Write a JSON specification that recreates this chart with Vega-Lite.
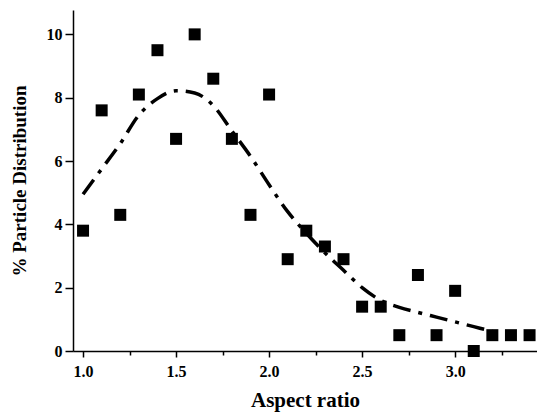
{
  "$schema": "https://vega.github.io/schema/vega-lite/v6.json",
  "width": 464,
  "height": 341,
  "autosize": {"type": "none"},
  "padding": {"left": 73, "top": 10, "right": 0, "bottom": 63},
  "background": "white",
  "config": {
    "view": {"stroke": null},
    "font": "Liberation Serif",
    "axis": {
      "domainColor": "black",
      "domainWidth": 1.5,
      "tickColor": "black",
      "tickWidth": 1.5,
      "labelFont": "Liberation Serif",
      "labelFontWeight": "bold",
      "labelFontSize": 16,
      "labelColor": "black",
      "titleFont": "Liberation Serif",
      "titleFontWeight": "bold",
      "titleFontSize": 19,
      "titleColor": "black",
      "grid": false
    }
  },
  "datasets": {
    "points": [
      {"ratio": 1.0, "pct": 3.8},
      {"ratio": 1.1, "pct": 7.6},
      {"ratio": 1.2, "pct": 4.3},
      {"ratio": 1.3, "pct": 8.1},
      {"ratio": 1.4, "pct": 9.5},
      {"ratio": 1.5, "pct": 6.7},
      {"ratio": 1.6, "pct": 10.0},
      {"ratio": 1.7, "pct": 8.6},
      {"ratio": 1.8, "pct": 6.7},
      {"ratio": 1.9, "pct": 4.3},
      {"ratio": 2.0, "pct": 8.1},
      {"ratio": 2.1, "pct": 2.9},
      {"ratio": 2.2, "pct": 3.8},
      {"ratio": 2.3, "pct": 3.3},
      {"ratio": 2.4, "pct": 2.9},
      {"ratio": 2.5, "pct": 1.4},
      {"ratio": 2.6, "pct": 1.4},
      {"ratio": 2.7, "pct": 0.5},
      {"ratio": 2.8, "pct": 2.4},
      {"ratio": 2.9, "pct": 0.5},
      {"ratio": 3.0, "pct": 1.9},
      {"ratio": 3.1, "pct": 0.0},
      {"ratio": 3.2, "pct": 0.5},
      {"ratio": 3.3, "pct": 0.5},
      {"ratio": 3.4, "pct": 0.5}
    ],
    "fit": [
      {"ratio": 1.0, "pct": 4.95},
      {"ratio": 1.1, "pct": 5.75},
      {"ratio": 1.2, "pct": 6.55},
      {"ratio": 1.3, "pct": 7.45},
      {"ratio": 1.4, "pct": 7.97},
      {"ratio": 1.5, "pct": 8.22},
      {"ratio": 1.6, "pct": 8.15},
      {"ratio": 1.7, "pct": 7.75},
      {"ratio": 1.8, "pct": 6.95},
      {"ratio": 1.9, "pct": 6.15},
      {"ratio": 2.0, "pct": 5.25},
      {"ratio": 2.1, "pct": 4.4},
      {"ratio": 2.2, "pct": 3.72},
      {"ratio": 2.3, "pct": 3.1},
      {"ratio": 2.4, "pct": 2.55},
      {"ratio": 2.5, "pct": 2.0},
      {"ratio": 2.6, "pct": 1.6},
      {"ratio": 2.7, "pct": 1.38},
      {"ratio": 2.8, "pct": 1.22},
      {"ratio": 2.9, "pct": 1.07},
      {"ratio": 3.0, "pct": 0.92},
      {"ratio": 3.1, "pct": 0.77},
      {"ratio": 3.2, "pct": 0.62},
      {"ratio": 3.25, "pct": 0.55}
    ]
  },
  "layer": [
    {
      "data": {"name": "fit"},
      "mark": {"type": "line", "color": "black", "strokeWidth": 3.5, "strokeDash": [18, 8, 4, 8], "interpolate": "monotone", "clip": true},
      "encoding": {
        "x": {
          "field": "ratio", "type": "quantitative",
          "scale": {"domain": [0.946, 3.44], "nice": false, "zero": false},
          "axis": {
            "title": "Aspect ratio",
            "titleFontSize": 21,
            "values": [1.0, 1.25, 1.5, 1.75, 2.0, 2.25, 2.5, 2.75, 3.0, 3.25],
            "labelExpr": "(round(datum.value*4) % 2 == 0) ? format(datum.value, '.1f') : ''",
            "tickSize": {"condition": {"test": "round(datum.value*4) % 2 == 0", "value": 6}, "value": 4},
            "labelPadding": 6,
            "titlePadding": 10
          }
        },
        "y": {
          "field": "pct", "type": "quantitative",
          "scale": {"domain": [0, 10.77], "nice": false},
          "axis": {
            "title": "% Particle Distribution",
            "values": [0, 1, 2, 3, 4, 5, 6, 7, 8, 9, 10],
            "labelExpr": "(datum.value % 2 == 0) ? datum.value : ''",
            "tickSize": {"condition": {"test": "datum.value % 2 == 0", "value": 8}, "value": 5},
            "labelPadding": 3,
            "titlePadding": 17
          }
        }
      }
    },
    {
      "data": {"name": "points"},
      "mark": {"type": "point", "shape": "square", "filled": true, "color": "black", "size": 144, "opacity": 1},
      "encoding": {
        "x": {"field": "ratio", "type": "quantitative"},
        "y": {"field": "pct", "type": "quantitative"}
      }
    }
  ]
}
